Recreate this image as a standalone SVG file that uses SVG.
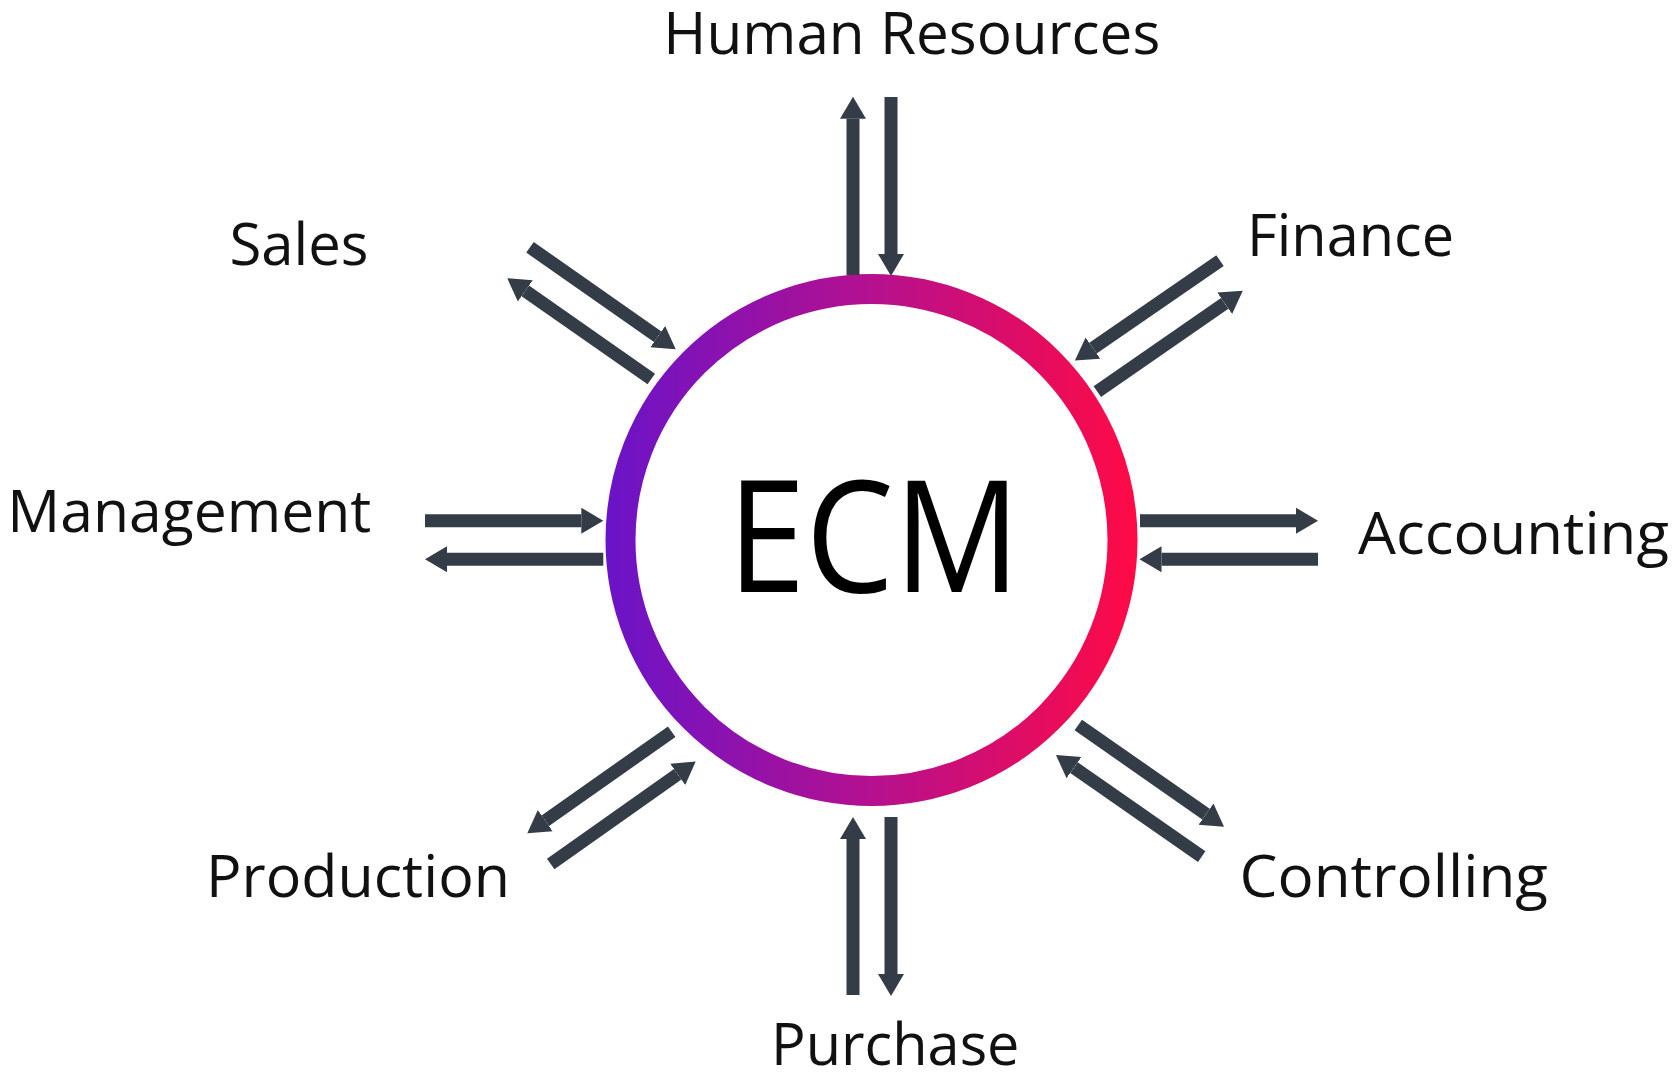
<svg xmlns="http://www.w3.org/2000/svg" width="1674" height="1081" viewBox="0 0 1674 1081">
  <style>
    .lbl { font-family: "Open Sans", "Noto Sans", "DejaVu Sans", sans-serif; font-size: 58px; fill: #111111; }
    .ecm { font-family: "Open Sans", "Noto Sans", "DejaVu Sans", sans-serif; font-size: 156px; font-weight: 400; fill: #000000; }
    .arr { stroke: #343d47; stroke-width: 13; fill: none; marker-end: url(#head); }
  </style>
  <defs>
    <linearGradient id="ring" gradientUnits="userSpaceOnUse" x1="606" y1="0" x2="1137" y2="0">
      <stop offset="0" stop-color="#6a13c8"/>
      <stop offset="0.5" stop-color="#b5108f"/>
      <stop offset="1" stop-color="#ff0a45"/>
    </linearGradient>
    <marker id="head" markerUnits="userSpaceOnUse" markerWidth="24" markerHeight="28" viewBox="0 -14 24 28" refX="0" refY="0" orient="auto">
      <path d="M0,-13 L22,0 L0,13 Z" fill="#343d47"/>
    </marker>
  </defs>
  <rect width="1674" height="1081" fill="#ffffff"/>

  <g id="ecm">
    <circle cx="871.5" cy="540" r="251" fill="#ffffff" stroke="url(#ring)" stroke-width="30"/>
    <text class="ecm" x="874" y="591.7" text-anchor="middle" textLength="293" lengthAdjust="spacingAndGlyphs">ECM</text>
  </g>

  <g id="human-resources"><text class="lbl" x="663.3" y="53.5" textLength="497" lengthAdjust="spacingAndGlyphs">Human Resources</text></g>
  <g id="sales"><text class="lbl" x="229.5" y="265" textLength="139" lengthAdjust="spacingAndGlyphs">Sales</text></g>
  <g id="finance"><text class="lbl" x="1247" y="256" textLength="207" lengthAdjust="spacingAndGlyphs">Finance</text></g>
  <g id="management"><text class="lbl" x="7.3" y="531.7" textLength="364" lengthAdjust="spacingAndGlyphs">Management</text></g>
  <g id="accounting"><text class="lbl" x="1358" y="554" textLength="311" lengthAdjust="spacingAndGlyphs">Accounting</text></g>
  <g id="production"><text class="lbl" x="206" y="897" textLength="304" lengthAdjust="spacingAndGlyphs">Production</text></g>
  <g id="controlling"><text class="lbl" x="1239.5" y="897" textLength="308.5" lengthAdjust="spacingAndGlyphs">Controlling</text></g>
  <g id="purchase"><text class="lbl" x="771" y="1065" textLength="248.5" lengthAdjust="spacingAndGlyphs">Purchase</text></g>

  <g id="connectors">
    <!-- Human Resources -->
    <line class="arr" x1="853" y1="275" x2="853" y2="118.7"/>
    <line class="arr" x1="891" y1="97" x2="891" y2="254"/>
    <!-- Purchase -->
    <line class="arr" x1="853" y1="995" x2="853" y2="839"/>
    <line class="arr" x1="891" y1="817" x2="891" y2="974"/>
    <!-- Management -->
    <line class="arr" x1="425" y1="520.7" x2="581.3" y2="520.7"/>
    <line class="arr" x1="603.3" y1="559.3" x2="447" y2="559.3"/>
    <!-- Accounting -->
    <line class="arr" x1="1140" y1="520.7" x2="1296" y2="520.7"/>
    <line class="arr" x1="1318" y1="559.3" x2="1161.5" y2="559.3"/>
    <!-- Sales -->
    <line class="arr" x1="530" y1="247.3" x2="657.7" y2="336.7"/>
    <line class="arr" x1="651.3" y1="379" x2="525.3" y2="290.9"/>
    <!-- Finance -->
    <line class="arr" x1="1220" y1="260.7" x2="1093" y2="348.1"/>
    <line class="arr" x1="1097.3" y1="391.7" x2="1224.7" y2="303.3"/>
    <!-- Production -->
    <line class="arr" x1="671.7" y1="731.7" x2="545.3" y2="820.7"/>
    <line class="arr" x1="550.7" y1="864" x2="677.7" y2="774.3"/>
    <!-- Controlling -->
    <line class="arr" x1="1078.3" y1="725" x2="1206" y2="814.1"/>
    <line class="arr" x1="1201.7" y1="856.7" x2="1074" y2="767.6"/>
  </g>
</svg>
